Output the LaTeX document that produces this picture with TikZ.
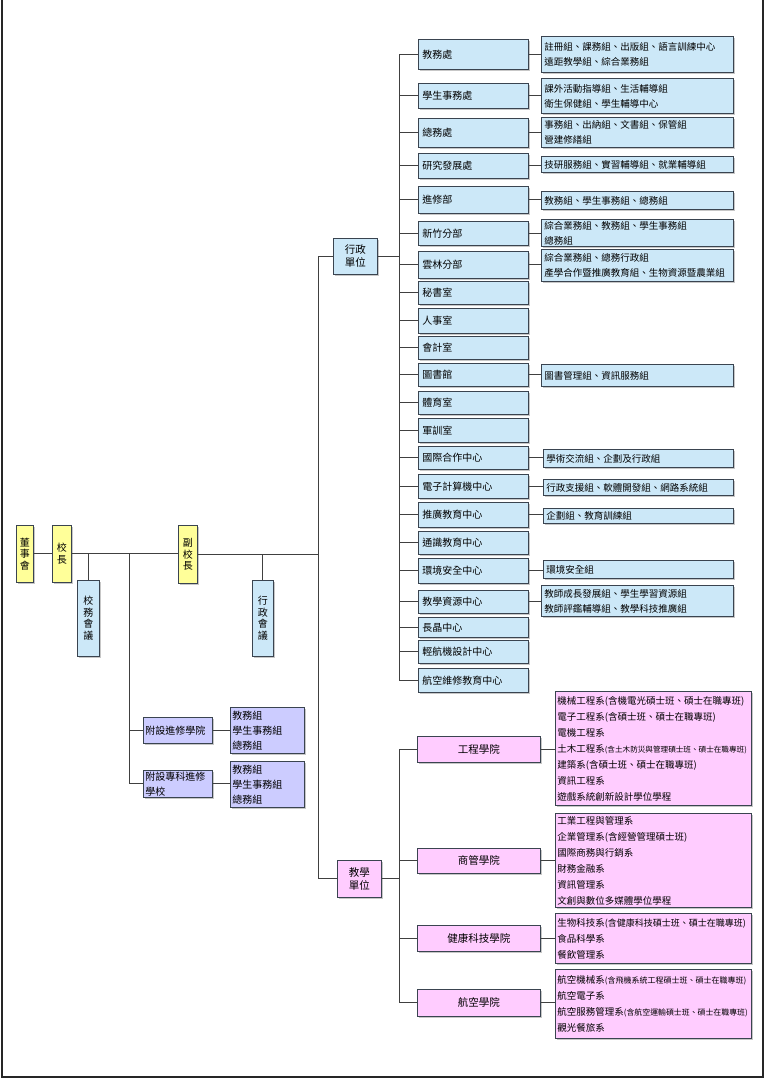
\documentclass[tikz,border=0pt]{standalone}
\usepackage{fontspec}
\setmainfont{Noto Sans CJK TC}
\usetikzlibrary{shadows}
\definecolor{admblue}{HTML}{CCE8F8}
\definecolor{headyellow}{HTML}{FFFF99}
\definecolor{acapink}{HTML}{FFCCFF}
\definecolor{extlav}{HTML}{CCCCFF}
\definecolor{boxline}{HTML}{3A4450}
\newcommand\smallpar[2]{{\fontsize{#1}{16}\selectfont #2}}
\begin{document}
\begin{tikzpicture}[x=1pt,y=-1pt,
  box/.style={draw=boxline,line width=0.8pt,anchor=north west,inner ysep=1pt,
    drop shadow={shadow xshift=1.2pt,shadow yshift=-1.2pt,fill=black!22,opacity=1}},
  adm/.style={box,fill=admblue,inner xsep=4pt,text width=102pt,align=left,
    font=\fontsize{10}{12}\selectfont},
  sub/.style={box,fill=admblue,inner xsep=3pt,text width=186pt,align=left,
    font=\fontsize{9.5}{15}\selectfont},
  col/.style={box,fill=acapink,minimum width=123pt,align=center,
    font=\fontsize{10.5}{12}\selectfont},
  dept/.style={box,fill=acapink,inner xsep=2pt,text width=192pt,align=left,
    font=\fontsize{9.5}{16}\selectfont},
  vbox/.style={box,inner sep=0pt,align=center,font=\fontsize{10}{11.5}\selectfont},
  unit/.style={box,inner sep=0pt,minimum width=44pt,align=center,
    font=\fontsize{10.5}{13}\selectfont},
  ext/.style={box,fill=extlav,inner xsep=2pt,align=left,
    font=\fontsize{10}{15}\selectfont},
  conn/.style={draw=black!75,line width=0.9pt}]
\useasboundingbox (0,0) rectangle (765,1080);
\draw[line width=1.5pt,black!85] (2,0) -- (2,1077) -- (763,1077) -- (763,0);
% top of the chart
\node[vbox,fill=headyellow,minimum width=17pt,minimum height=57pt] (dsh) at (16,525) {董\\事\\會};
\node[vbox,fill=headyellow,minimum width=19pt,minimum height=57pt] (xiaozhang) at (52,525) {校\\長};
\node[vbox,fill=headyellow,minimum width=19pt,minimum height=58pt] (fuxz) at (178,525) {副\\校\\長};
\node[vbox,fill=admblue,minimum width=22pt,minimum height=76pt] (xwhy) at (77,580) {校\\務\\會\\議};
\node[vbox,fill=admblue,minimum width=21pt,minimum height=76pt] (xzhy) at (252,580) {行\\政\\會\\議};
\coordinate (extspine) at (129,0);
\coordinate (spine) at (318,0);
\coordinate (trunk) at (399,0);
% attached schools
\node[ext,text width=65pt,minimum height=26pt] (fsxy) at (143,717) {附設進修學院};
\node[ext,text width=65pt,minimum height=27pt] (fszk) at (143,770) {附設專科進修\\學校};
\node[ext,text width=70pt,minimum height=46pt] (fsxysub) at (230,707) {教務組\\學生事務組\\總務組};
\node[ext,text width=70pt,minimum height=46pt] (fszksub) at (230,761) {教務組\\學生事務組\\總務組};
% units
\node[unit,fill=admblue,minimum height=36pt] (xzdw) at (333,238) {行政\\單位};
\node[unit,fill=acapink,minimum height=37pt] (jxdw) at (337,860) {教學\\單位};
% administration
\node[adm,minimum height=30pt] (jwc) at (418,39) {教務處};
\node[adm,minimum height=25pt] (xsc) at (418,83) {學生事務處};
\node[adm,minimum height=29pt] (zwc) at (418,118) {總務處};
\node[adm,minimum height=25pt] (yfc) at (418,153) {研究發展處};
\node[adm,minimum height=27pt] (jxb) at (418,186) {進修部};
\node[adm,minimum height=24pt] (xinzhu) at (418,221) {新竹分部};
\node[adm,minimum height=27pt] (yunlin) at (418,251) {雲林分部};
\node[adm,minimum height=23pt] (msh) at (418,281) {秘書室};
\node[adm,minimum height=25pt] (rsh) at (418,308) {人事室};
\node[adm,minimum height=23pt] (kj) at (418,336) {會計室};
\node[adm,minimum height=23pt] (tsg) at (418,363) {圖書館};
\node[adm,minimum height=23pt] (tys) at (418,391) {體育室};
\node[adm,minimum height=24pt] (jx) at (418,418) {軍訓室};
\node[adm,minimum height=23pt] (gjhz) at (418,446) {國際合作中心};
\node[adm,minimum height=24pt] (dzjs) at (418,474) {電子計算機中心};
\node[adm,minimum height=25pt] (tgjy) at (418,502) {推廣教育中心};
\node[adm,minimum height=23pt] (tsjy) at (418,531) {通識教育中心};
\node[adm,minimum height=25pt] (hjaq) at (418,558) {環境安全中心};
\node[adm,minimum height=23pt] (jxzy) at (418,590) {教學資源中心};
\node[adm,minimum height=20pt] (cj) at (418,617) {長晶中心};
\node[adm,minimum height=23pt] (qhj) at (418,640) {輕航機設計中心};
\node[adm,minimum height=24pt] (hkwx) at (418,668) {航空維修教育中心};
% sections
\node[sub,minimum height=36pt] (jwcsub) at (541,36) {註冊組、課務組、出版組、語言訓練中心\\遠距教學組、綜合業務組};
\node[sub,minimum height=35pt] (xscsub) at (541,78) {課外活動指導組、生活輔導組\\衛生保健組、學生輔導中心};
\node[sub,minimum height=30pt] (zwcsub) at (541,117) {事務組、出納組、文書組、保管組\\營建修繕組};
\node[sub,minimum height=16pt] (yfcsub) at (541,156) {技研服務組、實習輔導組、就業輔導組};
\node[sub,minimum height=18pt] (jxbsub) at (541,191) {教務組、學生事務組、總務組};
\node[sub,minimum height=27pt] (xinzhusub) at (541,219) {綜合業務組、教務組、學生事務組\\總務組};
\node[sub,minimum height=32pt] (yunlinsub) at (541,249) {綜合業務組、總務行政組\\產學合作暨推廣教育組、生物資源暨農業組};
\node[sub,minimum height=22pt] (tsgsub) at (541,364) {圖書管理組、資訊服務組};
\node[sub,text width=184pt,minimum height=18pt] (gjhzsub) at (543,449) {學術交流組、企劃及行政組};
\node[sub,text width=184pt,minimum height=16pt] (dzjssub) at (543,479) {行政支援組、軟體開發組、網路系統組};
\node[sub,text width=184pt,minimum height=15pt] (tgjysub) at (543,508) {企劃組、教育訓練組};
\node[sub,text width=184pt,minimum height=18pt] (hjaqsub) at (543,560) {環境安全組};
\node[sub,minimum height=31pt] (jxzysub) at (541,585) {教師成長發展組、學生學習資源組\\教師評鑑輔導組、教學科技推廣組};
% colleges
\node[col,minimum height=26pt] (gc) at (417,736) {工程學院};
\node[col,minimum height=25pt] (sg) at (417,848) {商管學院};
\node[col,minimum height=26pt] (jk) at (417,925) {健康科技學院};
\node[col,minimum height=27pt] (hk) at (417,989) {航空學院};
\node[dept,minimum height=114pt] (gcdept) at (555,691) {機械工程系(含機電光碩士班、碩士在職專班)\\電子工程系(含碩士班、碩士在職專班)\\電機工程系\\土木工程系\smallpar{7.6}{(含土木防災與管理碩士班、碩士在職專班)}\\建築系(含碩士班、碩士在職專班)\\資訊工程系\\遊戲系統創新設計學位學程};
\node[dept,minimum height=94pt] (sgdept) at (555,813) {工業工程與管理系\\企業管理系(含經營管理碩士班)\\國際商務與行銷系\\財務金融系\\資訊管理系\\文創與數位多媒體學位學程};
\node[dept,minimum height=50pt] (jkdept) at (555,913) {生物科技系\smallpar{9}{(含健康科技碩士班、碩士在職專班)}\\食品科學系\\餐飲管理系};
\node[dept,minimum height=69pt] (hkdept) at (555,969) {航空機械系\smallpar{8}{(含飛機系統工程碩士班、碩士在職專班)}\\航空電子系\\航空服務管理系\smallpar{7.9}{(含航空運輸碩士班、碩士在職專班)}\\觀光餐旅系};
% connectors, left part
\draw[conn] (dsh) -- (xiaozhang);
\draw[conn] (xiaozhang.east) -- (fuxz.west |- xiaozhang.east);
\draw[conn] (fuxz.east) -- (spine |- fuxz.east);
\draw[conn] (xwhy.north |- xiaozhang.east) -- (xwhy.north);
\draw[conn] (xzhy.north |- fuxz.east) -- (xzhy.north);
\draw[conn] (extspine |- xiaozhang.east) -- (extspine |- fszk.west);
\draw[conn] (extspine |- fsxy.west) -- (fsxy.west);
\draw[conn] (extspine |- fszk.west) -- (fszk.west);
\draw[conn] (fsxy.east) -- (fsxy.east -| fsxysub.west);
\draw[conn] (fszk.east) -- (fszk.east -| fszksub.west);
\draw[conn] (spine |- xzdw.west) -- (spine |- jxdw.west);
\draw[conn] (spine |- xzdw.west) -- (xzdw.west);
\draw[conn] (spine |- jxdw.west) -- (jxdw.west);
% connectors, administration
\draw[conn] (xzdw.east) -- (trunk |- xzdw.east);
\draw[conn] (trunk |- jwc.west) -- (trunk |- hkwx.west);
\draw[conn] (trunk |- jwc.west) -- (jwc.west);
\draw[conn] (trunk |- xsc.west) -- (xsc.west);
\draw[conn] (trunk |- zwc.west) -- (zwc.west);
\draw[conn] (trunk |- yfc.west) -- (yfc.west);
\draw[conn] (trunk |- jxb.west) -- (jxb.west);
\draw[conn] (trunk |- xinzhu.west) -- (xinzhu.west);
\draw[conn] (trunk |- yunlin.west) -- (yunlin.west);
\draw[conn] (trunk |- msh.west) -- (msh.west);
\draw[conn] (trunk |- rsh.west) -- (rsh.west);
\draw[conn] (trunk |- kj.west) -- (kj.west);
\draw[conn] (trunk |- tsg.west) -- (tsg.west);
\draw[conn] (trunk |- tys.west) -- (tys.west);
\draw[conn] (trunk |- jx.west) -- (jx.west);
\draw[conn] (trunk |- gjhz.west) -- (gjhz.west);
\draw[conn] (trunk |- dzjs.west) -- (dzjs.west);
\draw[conn] (trunk |- tgjy.west) -- (tgjy.west);
\draw[conn] (trunk |- tsjy.west) -- (tsjy.west);
\draw[conn] (trunk |- hjaq.west) -- (hjaq.west);
\draw[conn] (trunk |- jxzy.west) -- (jxzy.west);
\draw[conn] (trunk |- cj.west) -- (cj.west);
\draw[conn] (trunk |- qhj.west) -- (qhj.west);
\draw[conn] (trunk |- hkwx.west) -- (hkwx.west);
\draw[conn] (jwc.east) -- (jwc.east -| jwcsub.west);
\draw[conn] (xsc.east) -- (xsc.east -| xscsub.west);
\draw[conn] (zwc.east) -- (zwc.east -| zwcsub.west);
\draw[conn] (yfc.east) -- (yfc.east -| yfcsub.west);
\draw[conn] (jxb.east) -- (jxb.east -| jxbsub.west);
\draw[conn] (xinzhu.east) -- (xinzhu.east -| xinzhusub.west);
\draw[conn] (yunlin.east) -- (yunlin.east -| yunlinsub.west);
\draw[conn] (tsg.east) -- (tsg.east -| tsgsub.west);
\draw[conn] (gjhz.east) -- (gjhz.east -| gjhzsub.west);
\draw[conn] (dzjs.east) -- (dzjs.east -| dzjssub.west);
\draw[conn] (tgjy.east) -- (tgjy.east -| tgjysub.west);
\draw[conn] (hjaq.east) -- (hjaq.east -| hjaqsub.west);
\draw[conn] (jxzy.east) -- (jxzy.east -| jxzysub.west);
% connectors, colleges
\draw[conn] (jxdw.east) -- (trunk |- jxdw.east);
\draw[conn] (trunk |- gc.west) -- (trunk |- hk.west);
\draw[conn] (trunk |- gc.west) -- (gc.west);
\draw[conn] (trunk |- sg.west) -- (sg.west);
\draw[conn] (trunk |- jk.west) -- (jk.west);
\draw[conn] (trunk |- hk.west) -- (hk.west);
\draw[conn] (gc.east) -- (gc.east -| gcdept.west);
\draw[conn] (sg.east) -- (sg.east -| sgdept.west);
\draw[conn] (jk.east) -- (jk.east -| jkdept.west);
\draw[conn] (hk.east) -- (hk.east -| hkdept.west);
\end{tikzpicture}
\end{document}
